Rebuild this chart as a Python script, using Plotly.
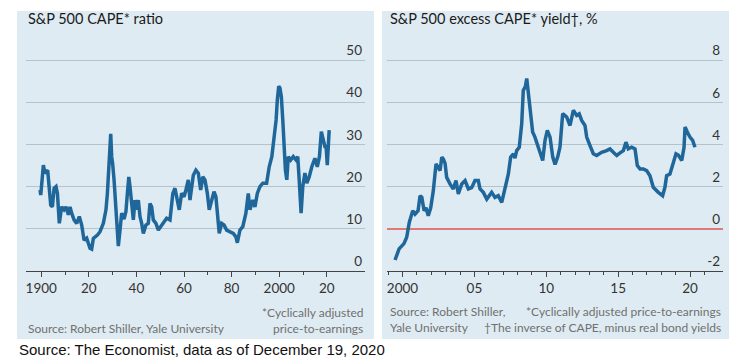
import plotly.graph_objects as go

# ---------------- data ----------------
cape_year = [1899.5, 1899.8, 1900.9, 1901.6, 1902.7, 1903.4, 1904.0, 1904.7, 1905.4, 1906.2,
             1906.8, 1907.6, 1908.6, 1909.6, 1910.4, 1911.4, 1912.1, 1912.8, 1913.8, 1914.9,
             1916.0, 1917.0, 1918.0, 1919.1, 1920.5, 1921.2, 1921.9, 1923.6, 1924.7, 1926.1,
             1927.2, 1927.8, 1928.4, 1928.9, 1929.2, 1929.6, 1930.0, 1930.6, 1931.1, 1931.7,
             1932.1, 1932.4, 1933.1, 1933.8, 1934.8, 1935.6, 1936.2, 1936.8, 1937.3, 1938.0,
             1938.7, 1939.4, 1940.1, 1940.8, 1941.5, 1942.2, 1942.9, 1944.0, 1945.0, 1945.7,
             1946.4, 1947.1, 1948.2, 1949.2, 1950.2, 1951.3, 1952.7, 1954.1, 1955.3, 1956.2,
             1957.2, 1958.0, 1959.0, 1960.0, 1960.8, 1961.8, 1962.5, 1963.2, 1963.9, 1965.0,
             1966.0, 1967.0, 1967.9, 1968.8, 1969.8, 1970.6, 1971.6, 1972.6, 1973.4, 1974.2,
             1974.8, 1975.8, 1976.8, 1977.9, 1979.3, 1980.7, 1981.8, 1982.4, 1983.5, 1984.7,
             1986.0, 1987.0, 1987.7, 1988.9, 1989.8, 1990.8, 1991.9, 1993.1, 1994.7, 1995.8,
             1996.9, 1997.8, 1998.7, 1999.2, 1999.8, 2000.3, 2000.9, 2001.5, 2002.0, 2002.6,
             2003.2, 2003.8, 2004.8, 2005.9, 2007.1, 2007.8, 2008.4, 2009.2, 2009.9, 2010.8,
             2011.6, 2012.6, 2013.7, 2015.0, 2016.0, 2016.9, 2017.7, 2018.5, 2019.2, 2019.7,
             2020.2, 2021.0]
cape_value = [19.2, 18.0, 25.1, 23.1, 23.9, 19.2, 15.6, 15.2, 19.6, 20.0,
              18.4, 11.3, 15.2, 14.5, 15.2, 13.3, 15.2, 13.7, 12.1, 11.3,
              12.9, 10.9, 7.3, 7.8, 5.4, 5.2, 7.7, 8.5, 9.3, 11.3,
              14.5, 18.4, 23.2, 27.9, 32.5, 27.1, 25.5, 21.6, 16.8, 12.1,
              7.3, 5.9, 9.7, 13.7, 12.3, 14.1, 18.4, 22.3, 20.0, 15.2,
              12.1, 16.8, 14.5, 16.8, 12.9, 11.3, 8.9, 10.9, 11.3, 16.0,
              15.2, 12.1, 11.3, 9.7, 10.5, 11.7, 12.5, 12.1, 18.4, 19.6,
              16.8, 14.5, 18.4, 17.6, 19.2, 21.6, 16.8, 20.0, 22.7, 23.9,
              23.2, 19.2, 22.3, 21.6, 18.4, 14.5, 16.8, 18.8, 17.6, 12.9,
              8.9, 11.3, 10.9, 9.7, 9.3, 8.9, 8.1, 6.7, 9.7, 10.5,
              13.7, 18.4, 14.5, 16.8, 15.2, 18.4, 20.0, 20.8, 20.8, 24.7,
              27.1, 31.8, 35.8, 40.5, 43.8, 43.4, 41.3, 35.8, 30.3, 23.9,
              21.6, 27.1, 26.3, 27.1, 26.3, 27.1, 21.6, 13.7, 20.0, 23.2,
              20.8, 22.3, 24.7, 26.7, 24.7, 27.1, 33.0, 31.0, 29.5, 29.5,
              25.1, 33.4]

ecy_year = [1999.48, 1999.76, 2000.10, 2000.29, 2000.47, 2000.71, 2000.87, 2001.08, 2001.22, 2001.34,
            2001.50, 2001.63, 2001.79, 2001.96, 2002.14, 2002.33, 2002.49, 2002.61, 2002.73, 2002.84,
            2002.96, 2003.07, 2003.30, 2003.53, 2003.72, 2003.88, 2004.12, 2004.35, 2004.58, 2004.81,
            2005.04, 2005.27, 2005.39, 2005.62, 2005.86, 2006.20, 2006.43, 2006.66, 2006.90, 2007.06,
            2007.25, 2007.36, 2007.52, 2007.71, 2007.82, 2007.94, 2008.12, 2008.29, 2008.40, 2008.54,
            2008.64, 2008.75, 2008.92, 2009.05, 2009.21, 2009.44, 2009.75, 2009.91, 2010.07, 2010.26,
            2010.45, 2010.61, 2010.79, 2010.95, 2011.14, 2011.42, 2011.65, 2011.88, 2012.11, 2012.29,
            2012.46, 2012.69, 2012.81, 2013.04, 2013.27, 2013.50, 2013.85, 2014.20, 2014.43, 2014.66,
            2014.90, 2015.13, 2015.36, 2015.54, 2015.70, 2015.94, 2016.17, 2016.33, 2016.52, 2016.75,
            2016.98, 2017.21, 2017.44, 2017.79, 2018.09, 2018.25, 2018.37, 2018.60, 2018.83, 2019.02,
            2019.18, 2019.42, 2019.58, 2019.65, 2019.81, 2019.99, 2020.18, 2020.34]
ecy_value = [-1.48, -0.95, -0.70, -0.40, 0.30, 0.86, 0.70, 0.86, 1.57, 1.50,
             0.86, 1.00, 0.62, 1.00, 1.80, 3.08, 2.90, 2.76, 3.40, 3.30,
             3.10, 2.44, 2.13, 1.89, 2.29, 1.65, 2.13, 2.29, 1.89, 1.95,
             2.29, 2.29, 1.89, 1.73, 1.41, 1.73, 1.49, 1.57, 1.25, 1.73,
             2.29, 2.60, 3.40, 3.56, 3.35, 3.71, 3.87, 4.99, 6.57, 6.73,
             7.13, 6.41, 5.14, 4.59, 4.35, 3.87, 3.24, 4.19, 4.67, 4.35,
             3.40, 3.05, 3.40, 3.87, 5.46, 5.30, 4.90, 5.62, 5.38, 5.45,
             5.14, 4.90, 4.35, 3.95, 3.56, 3.48, 3.63, 3.71, 3.79, 3.63,
             3.48, 3.60, 3.71, 4.11, 3.79, 3.87, 3.79, 3.00, 2.84, 2.84,
             2.76, 2.52, 1.97, 1.73, 1.57, 1.97, 2.52, 2.60, 3.08, 3.56,
             3.50, 3.24, 3.87, 4.83, 4.59, 4.35, 4.19, 3.87]

left_ticks = [1900, 1920, 1940, 1960, 1980, 2000, 2020]
left_ticktext = ["1900", "20", "40", "60", "80", "2000", "20"]
left_minor = [1910, 1930, 1950, 1970, 1990, 2010]
left_yticks = [0, 10, 20, 30, 40, 50]

right_ticks = [2000, 2005, 2010, 2015, 2020]
right_ticktext = ["2000", "05", "10", "15", "20"]
right_yticks = [-2, 0, 2, 4, 6, 8]
right_yticktext = ["-2", "0", "2", "4", "6", "8"]

# ---------------- style ----------------
W, H = 740, 364
BG = "#dfebf2"
LINE = "#1f679b"
GRID = "#b4c2cb"
AXIS = "#444444"
FONT = "Lato"


def px(x):
    return x / W


def py(y):
    return (H - y) / H


fig = go.Figure()
fig.add_trace(go.Scatter(x=cape_year, y=cape_value, mode="lines",
                         line=dict(color=LINE, width=3.5), xaxis="x", yaxis="y",
                         showlegend=False, hoverinfo="skip"))
fig.add_trace(go.Scatter(x=ecy_year, y=ecy_value, mode="lines",
                         line=dict(color=LINE, width=3.5), xaxis="x2", yaxis="y2",
                         showlegend=False, hoverinfo="skip"))

# panel backgrounds
for x0, x1 in [(17, 374), (382, 729)]:
    fig.add_shape(type="rect", xref="paper", yref="paper",
                  x0=px(x0), x1=px(x1), y0=py(339), y1=py(11),
                  fillcolor=BG, line=dict(width=0), layer="below")

# plot area: value 0 (left) / -2 (right) at y=271 px, top at y=28 px
TOP = 28
y_dom = [py(271), py(TOP)]
tickfont = dict(family=FONT, size=13.5, color="#333333")

fig.update_layout(
    width=W, height=H, autosize=False,
    margin=dict(l=0, r=0, t=0, b=0),
    paper_bgcolor="white", plot_bgcolor="rgba(0,0,0,0)",
    xaxis=dict(domain=[px(26), px(365)], range=[1893.6, 2036.05], anchor="y",
               tickmode="array", tickvals=left_ticks, ticktext=left_ticktext,
               ticks="outside", ticklen=5, tickwidth=1.2, tickcolor=AXIS,
               minor=dict(tickvals=left_minor, ticks="outside", ticklen=3,
                          tickwidth=1.2, tickcolor=AXIS, showgrid=False),
               showline=True, linecolor=AXIS, linewidth=1.2,
               showgrid=False, zeroline=False, tickfont=tickfont),
    yaxis=dict(domain=y_dom, range=[0, (271 - TOP) / 4.22], anchor="x", side="right",
               tickmode="array", tickvals=left_yticks,
               ticklabelposition="inside top", ticks="",
               showgrid=True, gridcolor=GRID, gridwidth=1.3,
               zeroline=False, showline=False, tickfont=tickfont),
    xaxis2=dict(domain=[px(387), px(723)], range=[1998.92, 2022.29], anchor="y2",
                tickmode="array", tickvals=right_ticks, ticktext=right_ticktext,
                ticks="outside", ticklen=5, tickwidth=1.2, tickcolor=AXIS,
                minor=dict(dtick=1, tick0=2000, ticks="outside", ticklen=3,
                           tickwidth=1.2, tickcolor=AXIS, showgrid=False),
                showline=True, linecolor=AXIS, linewidth=1.2,
                showgrid=False, zeroline=False, tickfont=tickfont),
    yaxis2=dict(domain=y_dom, range=[-2, (228 - TOP) / 21], anchor="x2", side="right",
                tickmode="array", tickvals=right_yticks, ticktext=right_yticktext,
                ticklabelposition="inside top", ticks="",
                showgrid=True, gridcolor=GRID, gridwidth=1.3,
                zeroline=True, zerolinecolor="#e07a78", zerolinewidth=1.5,
                showline=False, tickfont=tickfont),
)

notes = [
    ("S&P 500 CAPE* ratio", 26, 18, "left", 14.5, "#1a1a1a", FONT),
    ("S&P 500 excess CAPE* yield\u2020, %", 388, 18, "left", 14.5, "#1a1a1a", FONT),
    ("Source: Robert Shiller, Yale University", 26, 328, "left", 12, "#707070", FONT),
    ("*Cyclically adjusted", 365, 312, "right", 12, "#707070", FONT),
    ("price-to-earnings", 365, 328, "right", 12, "#707070", FONT),
    ("Source: Robert Shiller,", 388, 311, "left", 12, "#707070", FONT),
    ("Yale University", 388, 327, "left", 12, "#707070", FONT),
    ("*Cyclically adjusted price-to-earnings", 723, 311, "right", 12, "#707070", FONT),
    ("\u2020The inverse of CAPE, minus real bond yields", 723, 327, "right", 12, "#707070", FONT),
    ("Source: The Economist, data as of December 19, 2020", 17, 349, "left", 15, "#111111",
     "Liberation Sans"),
]
for text, x, y, anchor, size, color, fam in notes:
    fig.add_annotation(text=text, x=px(x), y=py(y), xref="paper", yref="paper",
                       xanchor=anchor, yanchor="middle", showarrow=False,
                       font=dict(family=fam, size=size, color=color))

fig.write_html("out.html", config={"displayModeBar": False},
               post_script="document.body.style.margin='0px';")
